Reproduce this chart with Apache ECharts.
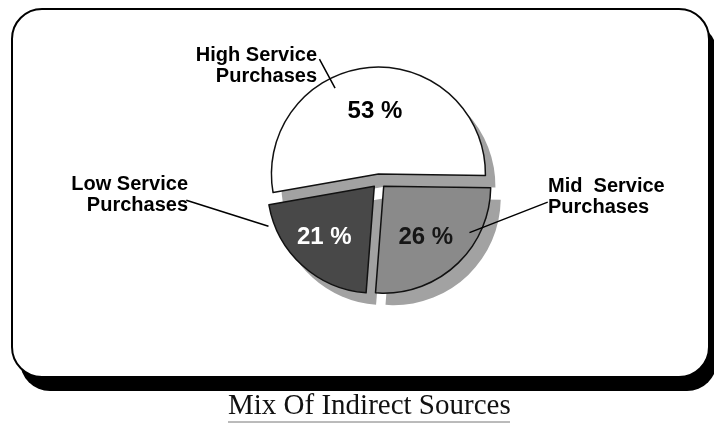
<!DOCTYPE html>
<html>
<head>
<meta charset="utf-8">
<script src="https://cdn.jsdelivr.net/npm/echarts@6/dist/echarts.min.js"></script>
<style>
  html, body { margin: 0; padding: 0; background: #fff; }
  #chart { width: 714px; height: 424px; }
</style>
</head>
<body>
<div id="chart"></div>
<script>
// ---- data ----
const categories = ['High Service\nPurchases', 'Mid  Service\nPurchases', 'Low Service\nPurchases'];
const shares = [53, 26, 21];
const chartTitle = 'Mix Of Indirect Sources';

// ---- styles / layout (kept separate from data) ----
const sliceColors = ['#ffffff', '#8a8a8a', '#484848'];
const percentColors = ['#000000', '#161616', '#ffffff'];
const shadowColor = '#a2a2a2';
const PIE_CENTER = [379, 181];
const PIE_R = 107;
const START_ANGLE = 190;
const EXPLODE = 7;
const SHADOW_SHIFT = [10, 12];
const nameLabelPos = [
  { x: 317, y: 66, align: 'right' },
  { x: 548, y: 197, align: 'left' },
  { x: 188, y: 195, align: 'right' }
];
const leaderTarget = [[0.375, 0.84], [0.28, 0.85], [0.88, 1.0]];
const pctNudge = [[1, -6], [4, 9], [-12, 9]];

const total = shares.reduce((a, b) => a + b, 0);
function sliceGeom(i) {
  let cum = 0;
  for (let k = 0; k < i; k++) cum += shares[k];
  const start = START_ANGLE - cum / total * 360;
  const span = shares[i] / total * 360;
  const mid = (start - span / 2) * Math.PI / 180;
  const ox = EXPLODE * Math.cos(mid), oy = -EXPLODE * Math.sin(mid);
  return { start, span, ox, oy, cx: PIE_CENTER[0] + ox, cy: PIE_CENTER[1] + oy };
}

const baseData = categories.map((c, i) => ({ name: c, value: shares[i], selected: true }));
const pieCommon = {
  type: 'pie', silent: true,
  center: PIE_CENTER, radius: PIE_R, startAngle: START_ANGLE, clockwise: true,
  selectedMode: 'multiple', selectedOffset: EXPLODE,
  avoidLabelOverlap: false,
  emphasis: { disabled: true }
};

const chart = echarts.init(document.getElementById('chart'), null, { renderer: 'canvas' });
chart.setOption({
  animation: false,
  backgroundColor: '#ffffff',
  title: {
    text: chartTitle,
    left: 223,
    top: 387,
    textStyle: { fontFamily: 'Liberation Serif', fontSize: 29, fontWeight: 'normal', color: '#111' }
  },
  graphic: [
    { type: 'rect', z: -2, silent: true,
      shape: { x: 20, y: 23, width: 697, height: 368, r: 30 },
      style: { fill: '#000' } },
    { type: 'rect', z: -1, silent: true,
      shape: { x: 12, y: 9, width: 697, height: 368, r: 30 },
      style: { fill: '#fff', stroke: '#000', lineWidth: 2 } },
    { type: 'line', z: 5, silent: true,
      shape: { x1: 228, y1: 422, x2: 510, y2: 422 },
      style: { stroke: '#777', lineWidth: 1 } }
  ],
  series: [
    Object.assign({}, pieCommon, {
      name: 'shadow', z: 1,
      center: [PIE_CENTER[0] + SHADOW_SHIFT[0], PIE_CENTER[1] + SHADOW_SHIFT[1]],
      label: { show: false }, labelLine: { show: false },
      itemStyle: { color: shadowColor, borderWidth: 0 },
      data: baseData.map(d => Object.assign({}, d))
    }),
    Object.assign({}, pieCommon, {
      name: 'slices', z: 2,
      itemStyle: { borderColor: '#111', borderWidth: 1.5 },
      label: {
        show: true, position: 'inside',
        formatter: p => p.value + ' %',
        fontFamily: 'Liberation Sans', fontWeight: 'bold', fontSize: 24
      },
      labelLayout: p => ({ dx: pctNudge[p.dataIndex][0], dy: pctNudge[p.dataIndex][1] }),
      data: baseData.map((d, i) => Object.assign({}, d, {
        itemStyle: { color: sliceColors[i] },
        label: { color: percentColors[i] }
      }))
    }),
    // leader lines (label text invisible; lines drawn from the name labels into the slices)
    Object.assign({}, pieCommon, {
      name: 'leaders', z: 3,
      itemStyle: { color: 'rgba(0,0,0,0)', borderWidth: 0 },
      label: {
        show: true, position: 'outside', formatter: p => p.name,
        fontSize: 20, color: 'rgba(0,0,0,0)'
      },
      labelLine: { show: true, length: 10, length2: 0, lineStyle: { color: '#000', width: 1.5 } },
      labelLayout: p => {
        const i = p.dataIndex;
        const pos = nameLabelPos[i];
        const g = sliceGeom(i);
        const ang = (g.start - g.span * leaderTarget[i][0]) * Math.PI / 180;
        const rr = PIE_R * leaderTarget[i][1];
        const ex = g.cx + rr * Math.cos(ang);
        const ey = g.cy - rr * Math.sin(ang);
        const sx = pos.align === 'right' ? pos.x + 3 : pos.x - 5;
        return {
          labelLinePoints: [[sx, pos.y], [(sx + ex) / 2, (pos.y + ey) / 2], [ex, ey]]
        };
      },
      data: baseData.map(d => Object.assign({}, d))
    }),
    // category name labels, moved to their places with dx/dy
    Object.assign({}, pieCommon, {
      name: 'names', z: 4,
      itemStyle: { color: 'rgba(0,0,0,0)', borderWidth: 0 },
      label: {
        show: true, position: 'inside', formatter: p => p.name,
        fontFamily: 'Liberation Sans', fontWeight: 'bold', fontSize: 20, lineHeight: 21,
        color: '#000'
      },
      labelLayout: p => {
        const pos = nameLabelPos[p.dataIndex];
        const g = sliceGeom(p.dataIndex);
        const r = p.labelRect;
        const dx = pos.x - (r.x + r.width / 2) - g.ox;
        const dy = pos.y - (r.y + r.height / 2) - g.oy;
        return { dx, dy, align: pos.align, verticalAlign: 'middle' };
      },
      data: baseData.map(d => Object.assign({}, d))
    })
  ]
});
</script>
</body>
</html>
